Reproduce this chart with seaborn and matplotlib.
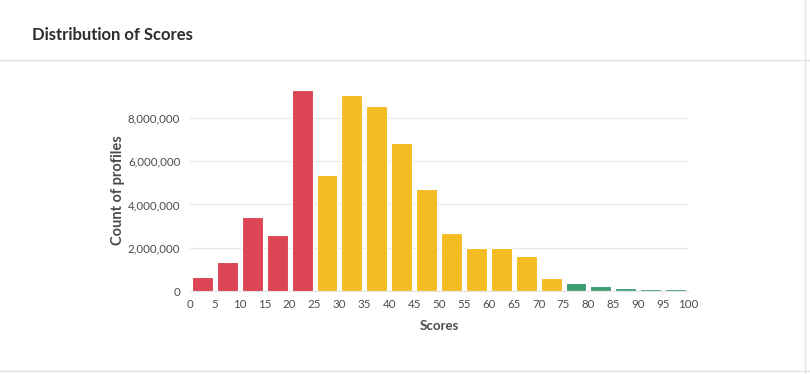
"""
Distribution of Scores - histogram of profile counts by score bin
"""
import numpy as np
import pandas as pd
import matplotlib
matplotlib.use("Agg")
import matplotlib.pyplot as plt
from matplotlib.lines import Line2D
from matplotlib.ticker import FuncFormatter
import seaborn as sns

# score bins (left edges) and counts per bin
bin_starts = [0, 5, 10, 15, 20, 25, 30, 35, 40, 45, 50, 55, 60, 65, 70, 75, 80, 85, 90, 95]
counts = [650000, 1340000, 3420000, 2590000, 9280000, 5360000, 9050000, 8550000, 6840000, 4710000,
          2680000, 1990000, 2000000, 1620000, 600000, 360000, 230000, 150000, 70000, 80000]
bands = ["low"] * 5 + ["mid"] * 10 + ["high"] * 5
band_colors = {"low": "#DB4554", "mid": "#F3BC22", "high": "#3E9C74"}

bin_edges = list(range(0, 105, 5))
x_ticks = list(range(0, 105, 5))
y_ticks = [0, 2000000, 4000000, 6000000, 8000000]

df = pd.DataFrame({
    "score": [b + 2.5 for b in bin_starts],
    "count": counts,
    "band": bands,
})

sns.set_style("white")
plt.rcParams["font.family"] = ["Lato", "DejaVu Sans"]

fig = plt.figure(figsize=(8.1, 3.74), dpi=100)
ax = fig.add_axes([0.2346, 0.2219, 0.6148, 0.538])

sns.histplot(data=df, x="score", weights="count", hue="band", bins=bin_edges,
             palette=band_colors, hue_order=["low", "mid", "high"], multiple="layer",
             shrink=0.84, alpha=1, edgecolor="white", linewidth=0.8,
             legend=False, ax=ax, zorder=3)

ax.set_xlim(0, 100)
ax.set_ylim(0, 9300000)
ax.set_xticks(x_ticks)
ax.set_yticks(y_ticks)
ax.yaxis.set_major_formatter(FuncFormatter(lambda v, p: f"{int(v):,}"))
ax.tick_params(axis="both", length=0, labelsize=8.3, colors="#4b4b4b")
ax.tick_params(axis="x", pad=6)
ax.tick_params(axis="y", pad=7)
ax.grid(axis="y", color="#e8e8e8", linewidth=0.9, zorder=0)
ax.set_axisbelow(True)
for side in ["top", "right", "left"]:
    ax.spines[side].set_visible(False)
ax.spines["bottom"].set_color("#e3e3e3")

ax.set_xlabel("Scores", fontsize=9.5, fontweight="bold", color="#4b4b4b", labelpad=7)
ax.set_ylabel("Count of profiles", fontsize=10.5, fontweight="bold", color="#4b4b4b", labelpad=2)

# card header and borders
fig.text(32 / 810, 1 - 35 / 374, "Distribution of Scores", fontsize=12, fontweight="bold",
         color="#2c2c2c", va="center", ha="left")
fig.add_artist(Line2D([0, 1], [1 - 60 / 374, 1 - 60 / 374], color="#e3e3e3", linewidth=1))
fig.add_artist(Line2D([0, 1], [1 - 371 / 374, 1 - 371 / 374], color="#e3e3e3", linewidth=1))
fig.add_artist(Line2D([805 / 810, 805 / 810], [0, 1], color="#e3e3e3", linewidth=1))

fig.savefig("out.png", dpi=100)
plt.close(fig)
